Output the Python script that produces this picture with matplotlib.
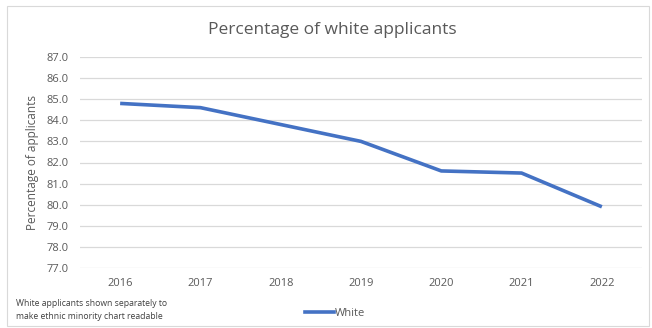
import matplotlib
matplotlib.use("Agg")
import matplotlib.pyplot as plt
from matplotlib.patches import Rectangle
from matplotlib.lines import Line2D

# Share of white applicants by year
years = ["2016", "2017", "2018", "2019", "2020", "2021", "2022"]
white_pct = [84.8, 84.6, 83.8, 83.0, 81.6, 81.5, 79.9]
y_ticks = [77.0, 78.0, 79.0, 80.0, 81.0, 82.0, 83.0, 84.0, 85.0, 86.0, 87.0]

plt.rcParams["font.family"] = ["Open Sans", "DejaVu Sans"]
text_grey = "#595959"
line_blue = "#4472C4"

fig = plt.figure(figsize=(6.52, 3.28), dpi=100)
ax = fig.add_axes([80 / 652, 1 - 268 / 328, 562 / 652, 211 / 328])

x = range(len(years))
ax.plot(x, white_pct, color=line_blue, lw=2.6, solid_capstyle="butt")

ax.set_xlim(-0.5, len(years) - 0.5)
ax.set_ylim(y_ticks[0], y_ticks[-1])
ax.set_yticks(y_ticks)
ax.set_yticklabels([f"{v:.1f}" for v in y_ticks])
ax.set_xticks(list(x))
ax.set_xticklabels(years)
ax.grid(axis="y", color="#d9d9d9", lw=0.9)
ax.set_axisbelow(True)
for s in ax.spines.values():
    s.set_visible(False)
ax.tick_params(length=0, labelsize=8, colors=text_grey)
ax.tick_params(axis="x", pad=7)
ax.tick_params(axis="y", pad=8.5)
ax.set_ylabel("Percentage of applicants", fontsize=8.5, color=text_grey, labelpad=5)

fig.text(0.51, 1 - 30 / 328, "Percentage of white applicants", ha="center", va="center",
         fontsize=12.5, color=text_grey)

fig.text(16 / 652, 1 - 310 / 328, "White applicants shown separately to\nmake ethnic minority chart readable",
         ha="left", va="center", fontsize=6.2, color="#404040", linespacing=1.45)

legend_handle = Line2D([], [], color=line_blue, lw=2.6)
fig.legend([legend_handle], ["White"], loc="center", bbox_to_anchor=(335 / 652, 1 - 313 / 328),
           frameon=False, fontsize=8, handlelength=2.6, handletextpad=0.1, labelcolor=text_grey)

# outer chart border
fig.patches.append(Rectangle((7 / 652, 2 / 328), 1 - 10 / 652, 1 - 8 / 328, transform=fig.transFigure,
                             fill=False, edgecolor="#d9d9d9", lw=0.8))

fig.savefig("out.png", dpi=100)
